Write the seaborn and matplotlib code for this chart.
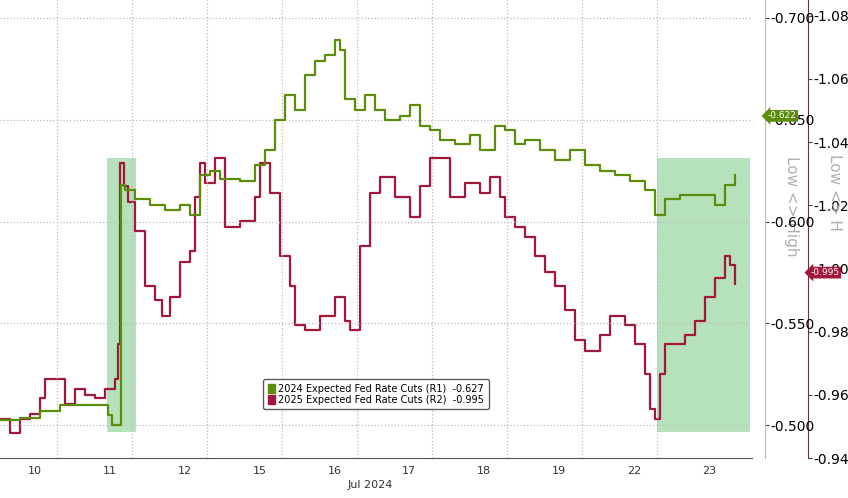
import numpy as np
import pandas as pd
import seaborn as sns
import matplotlib.pyplot as plt
from matplotlib.patches import Patch

# x positions in pixels of the reference -> converted to trading-day units below
green_px = [0, 20, 40, 60, 80, 100, 108, 112, 118, 121, 125, 135, 150, 165, 180, 190, 200, 210, 220, 240, 255, 265,
            275, 285, 295, 305, 315, 325, 335, 340, 345, 355, 365, 375, 385, 400, 410, 420, 430, 440, 455, 470, 480,
            495, 505, 515, 525, 540, 555, 570, 585, 600, 615, 630, 645, 655, 665, 680, 700, 715, 725, 735]
green_val = [-0.5025, -0.5035, -0.507, -0.510, -0.510, -0.510, -0.505, -0.500, -0.500, -0.618, -0.6155, -0.611,
             -0.608, -0.6057, -0.608, -0.603, -0.623, -0.625, -0.621, -0.620, -0.628, -0.635, -0.650, -0.662, -0.655,
             -0.672, -0.679, -0.682, -0.689, -0.684, -0.660, -0.655, -0.662, -0.655, -0.650, -0.652, -0.657, -0.647,
             -0.645, -0.640, -0.638, -0.6425, -0.635, -0.647, -0.645, -0.638, -0.640, -0.635, -0.630, -0.635, -0.628,
             -0.625, -0.623, -0.620, -0.6155, -0.603, -0.611, -0.613, -0.613, -0.608, -0.618, -0.623]
red_px = [0, 10, 20, 30, 40, 45, 55, 65, 75, 85, 95, 105, 115, 118, 120, 124, 128, 135, 145, 155, 162, 170, 180, 190,
          195, 200, 205, 215, 225, 240, 255, 260, 270, 280, 290, 295, 305, 320, 335, 345, 350, 360, 370, 380, 395,
          410, 420, 430, 440, 450, 465, 480, 490, 500, 505, 515, 525, 535, 545, 555, 565, 575, 585, 600, 610, 625,
          635, 645, 650, 655, 660, 665, 675, 685, 695, 705, 715, 725, 730, 735]
red_val = [-0.9525, -0.948, -0.9525, -0.954, -0.959, -0.965, -0.965, -0.957, -0.962, -0.960, -0.959, -0.962, -0.965,
           -0.976, -1.0335, -1.026, -1.021, -1.012, -0.9946, -0.990, -0.985, -0.991, -1.002, -1.0055, -1.0226,
           -1.0335, -1.027, -1.035, -1.0133, -1.015, -1.0226, -1.0335, -1.024, -1.004, -0.9946, -0.982, -0.9805,
           -0.985, -0.991, -0.9835, -0.9805, -1.007, -1.024, -1.029, -1.0226, -1.0164, -1.026, -1.035, -1.035,
           -1.0226, -1.027, -1.024, -1.029, -1.0226, -1.0164, -1.0133, -1.010, -1.004, -0.999, -0.9946, -0.9868,
           -0.9775, -0.974, -0.979, -0.985, -0.982, -0.976, -0.9665, -0.9556, -0.9525, -0.9665, -0.976, -0.976,
           -0.979, -0.9835, -0.991, -0.997, -1.004, -1.001, -0.995]
day_labels = ['10', '11', '12', '15', '16', '17', '18', '19', '22', '23']
green_ticks = [-0.700, -0.650, -0.600, -0.550, -0.500]
red_ticks = [-1.080, -1.060, -1.040, -1.020, -1.000, -0.980, -0.960, -0.940]

GREEN = '#5b8c0a'
RED = '#a3173a'


def to_day(px):
    return (np.array(px) + 18) / 75.0


gdf = pd.DataFrame({'x': to_day(green_px), 'v': green_val})
rdf = pd.DataFrame({'x': to_day(red_px), 'v': red_val})

fig = plt.figure(figsize=(8.48, 4.98), dpi=100)
ax = fig.add_axes([0.0, 0.08, 752 / 848, 0.92])
ax2 = ax.twinx()
ax.set_zorder(2)
ax.patch.set_visible(False)

sns.lineplot(data=rdf, x='x', y='v', ax=ax2, color=RED, drawstyle='steps-post', lw=1.6)
sns.lineplot(data=gdf, x='x', y='v', ax=ax, color=GREEN, drawstyle='steps-post', lw=1.6)

ax.set_xlim(0.24, 10.27)
ax.set_ylim(-0.4838, -0.7088)
ax2.set_ylim(-0.9422, -1.085)

# shaded regions
for x0, x1 in [(107, 136), (657, 750)]:
    ax2.axvspan(to_day(x0), to_day(x1), ymin=1 - 432 / 458, ymax=1 - 158 / 458,
                color='#a8ddb0', alpha=0.85, lw=0, zorder=0)

ax.set_xticks(np.arange(10) + 0.7)
ax.set_xticklabels(day_labels, fontsize=8, color='#333333')
ax.tick_params(axis='x', length=0, pad=6)
for k in range(1, 10):
    ax.axvline(k, color='#bbbbbb', ls=':', lw=0.9, zorder=0)
for t in green_ticks:
    ax.axhline(t, color='#bbbbbb', ls=':', lw=0.9, zorder=0)

ax.yaxis.tick_right()
ax.set_yticks(green_ticks)
ax.set_yticklabels(['%.3f' % t for t in green_ticks], fontsize=6.5, color='#444444')
ax.spines['right'].set_position(('axes', 765 / 752))
ax.spines['right'].set_color('#b8c48a')
ax.tick_params(axis='y', length=3, color='#444444', pad=1)
ax2.set_yticks(red_ticks)
ax2.set_yticklabels(['%.3f' % t for t in red_ticks], fontsize=6.5, color='#444444')
ax2.spines['right'].set_position(('axes', 808 / 752))
ax2.spines['right'].set_color('#6b3040')
ax2.tick_params(axis='y', length=3, color='#444444', pad=1)
for a in (ax, ax2):
    a.spines['top'].set_visible(False)
    a.spines['left'].set_visible(False)
    a.set_xlabel('')
    a.set_ylabel('')
ax2.spines['bottom'].set_visible(False)
ax.spines['bottom'].set_color('#555555')

# rotated side labels
ax.text(1.052, 0.55, 'Low <> High', transform=ax.transAxes, rotation=270, fontsize=11,
        color='#b0b0b0', va='center', ha='center', clip_on=False, zorder=0)
ax.text(1.11, 0.58, 'Low <> H', transform=ax.transAxes, rotation=270, fontsize=11,
        color='#b0b0b0', va='center', ha='center', clip_on=False, zorder=0)

# value tags
ax.text(1.021, 0.747, '-0.622', transform=ax.transAxes, fontsize=6.5, color='white',
        bbox=dict(boxstyle='larrow,pad=0.15', fc=GREEN, ec='none'), va='center', clip_on=False, zorder=5)
ax.text(1.078, 0.405, '-0.995', transform=ax.transAxes, fontsize=6.5, color='white',
        bbox=dict(boxstyle='larrow,pad=0.15', fc=RED, ec='none'), va='center', clip_on=False, zorder=5)

fig.text(370 / 848, 10 / 498, 'Jul 2024', fontsize=8, color='#333333', ha='center')

leg = ax.legend(handles=[Patch(color=GREEN, label='2024 Expected Fed Rate Cuts (R1)  -0.627'),
                         Patch(color=RED, label='2025 Expected Fed Rate Cuts (R2)  -0.995')],
                loc='center', bbox_to_anchor=(0.5, 0.14), fontsize=7, frameon=True,
                handlelength=0.8, handleheight=1.0, handletextpad=0.3, borderpad=0.3, labelspacing=0.1)
leg.get_frame().set_edgecolor('#333333')
leg.get_frame().set_linewidth(1.0)
leg.get_frame().set_boxstyle('round,pad=0.2')

fig.savefig('out.png', dpi=100)
